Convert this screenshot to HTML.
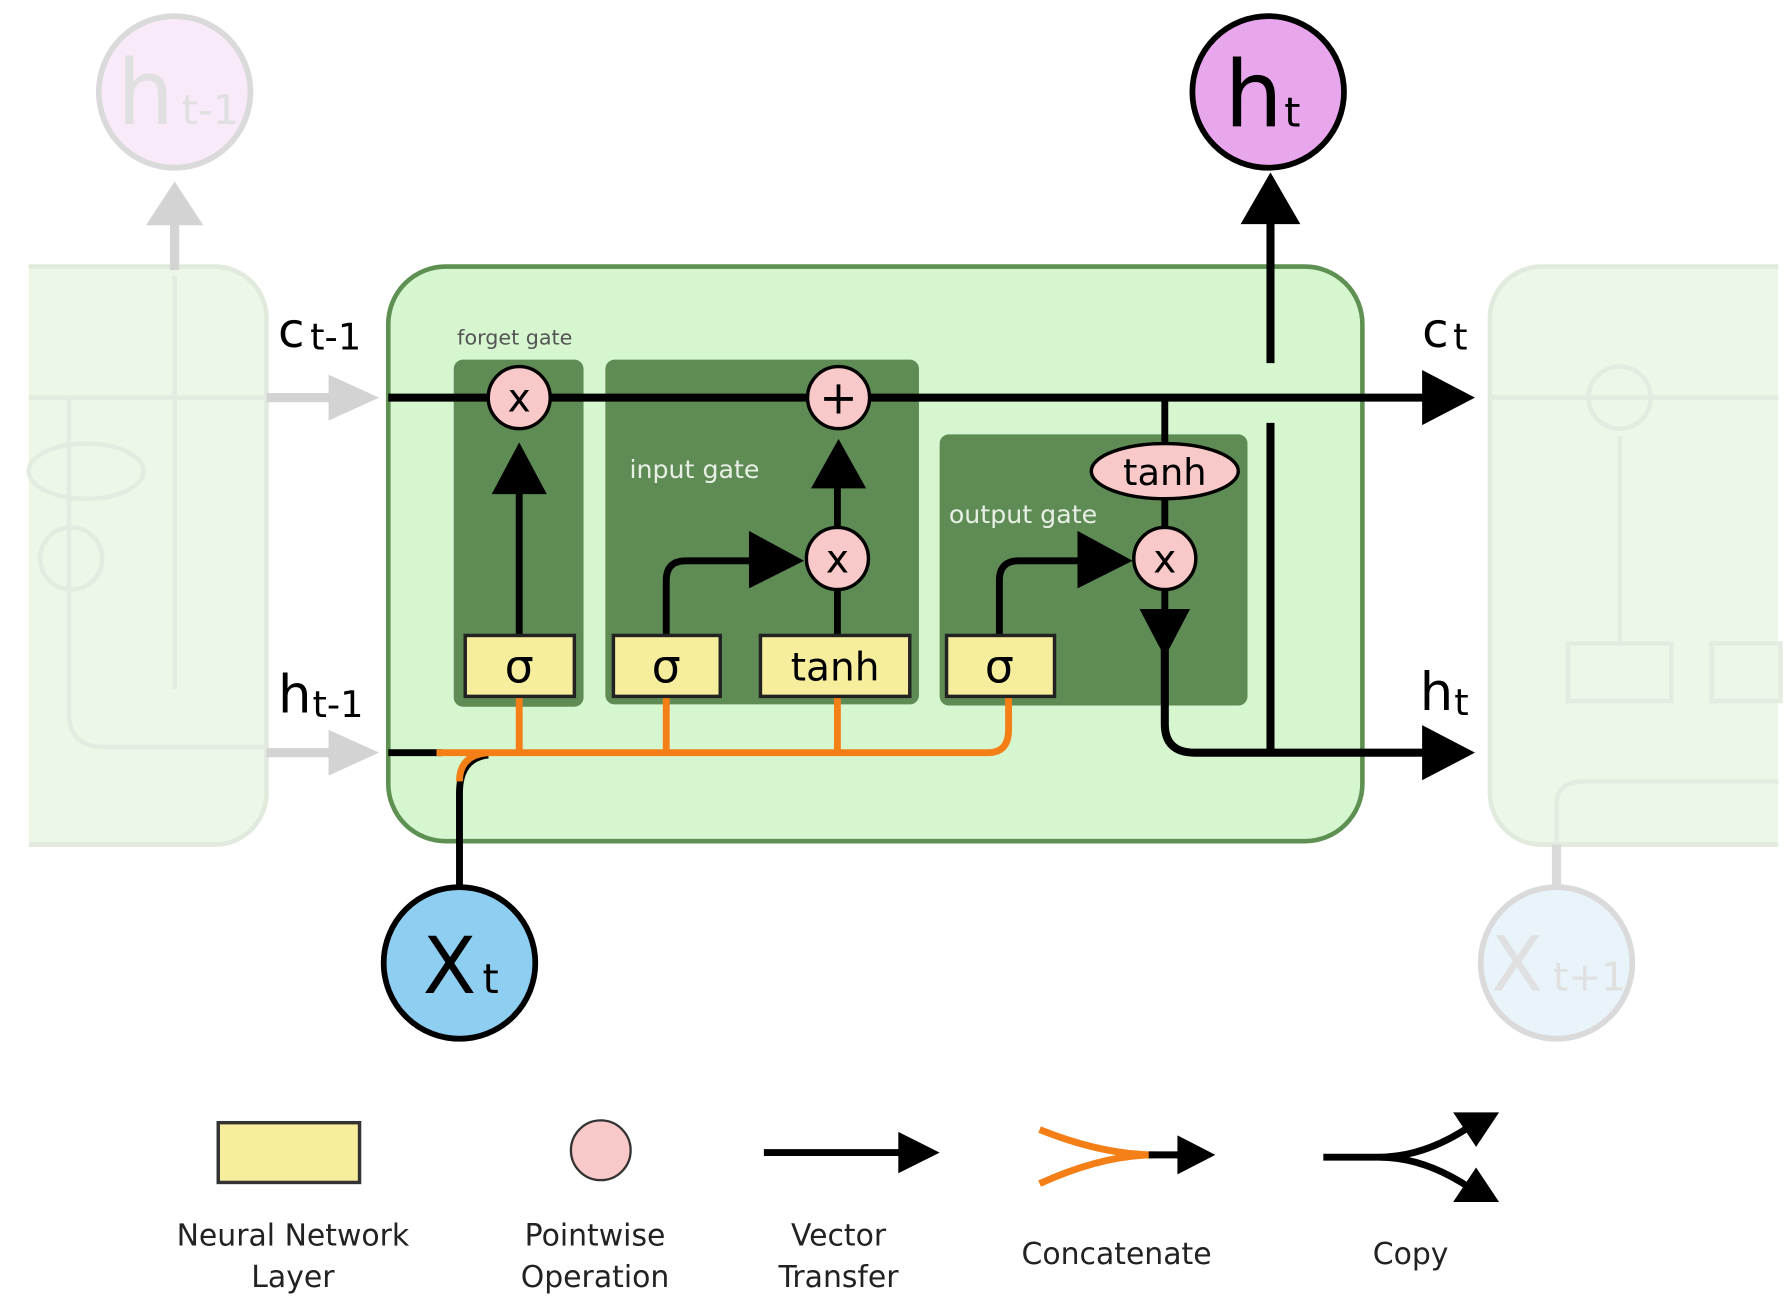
<!DOCTYPE html>
<html><head><meta charset="utf-8"><style>html,body{margin:0;padding:0;background:#fff}svg{display:block}</style></head>
<body>
<svg width="1792" height="1310" viewBox="0 0 1560 1140" preserveAspectRatio="none" xmlns="http://www.w3.org/2000/svg" font-family="'DejaVu Sans','Liberation Sans',sans-serif">
<!-- ghost cells -->
<g opacity="0.9">
<rect x="-30" y="232" width="262" height="503" rx="45" fill="#eaf7e6" stroke="#dde8da" stroke-width="4"/>
<rect x="0" y="228" width="25" height="512" fill="#fff"/>
<rect x="1297" y="232" width="300" height="503" rx="45" fill="#eaf7e6" stroke="#dde8da" stroke-width="4"/>
<rect x="1548" y="228" width="20" height="512" fill="#fff"/>
<g stroke="#e0ebdd" stroke-width="4" fill="none">
<path d="M25,346 H232 M60,346 V620 Q60,650 90,650 H232 M152,240 V600"/>
<ellipse cx="75" cy="410" rx="50" ry="24"/>
<circle cx="62" cy="486" r="27"/>
<path d="M1297,346 H1548 M1410,380 V560 M1365,560 h90 v50 h-90z M1490,560 h60 v50 h-60z M1355,735 V700 Q1355,680 1380,680 H1548"/>
<circle cx="1410" cy="346" r="27"/>
</g>
<circle cx="152" cy="80" r="66" fill="#f8e8f8" stroke="#d6d6d6" stroke-width="5"/>
<text x="102" y="108" font-size="78" fill="#ddd">h</text><text x="158" y="108" font-size="36" fill="#ddd">t-1</text>
<line x1="152" y1="235" x2="152" y2="195" stroke="#d0d0d0" stroke-width="8"/>
<path d="M127,196 L152,158 L177,196z" fill="#cfcfcf"/>
<line x1="232" y1="346" x2="290" y2="346" stroke="#cfcfcf" stroke-width="8"/>
<path d="M286,326 L330,346 L286,366z" fill="#cfcfcf"/>
<line x1="232" y1="655" x2="290" y2="655" stroke="#cfcfcf" stroke-width="8"/>
<path d="M286,635 L330,655 L286,675z" fill="#cfcfcf"/>
<circle cx="1355" cy="838" r="66" fill="#e6f2fa" stroke="#d6d6d6" stroke-width="5"/>
<text x="1298" y="862" font-size="66" fill="#ddd">X</text><text x="1352" y="862" font-size="34" fill="#ddd">t+1</text>
<line x1="1355" y1="735" x2="1355" y2="770" stroke="#d6d6d6" stroke-width="8"/>
</g>
<!-- main cell -->
<rect x="338" y="232" width="848" height="500" rx="50" fill="#d6f6cf" stroke="#5e9052" stroke-width="4"/>
<rect x="395" y="313" width="113" height="302" rx="8" fill="#5f8b55"/>
<rect x="527" y="313" width="273" height="300" rx="8" fill="#5f8b55"/>
<rect x="818" y="378" width="268" height="236" rx="8" fill="#5f8b55"/>
<text x="398" y="300" font-size="18" fill="#555">forget gate</text>
<text x="548" y="416" font-size="22" fill="#e8f0e6">input gate</text>
<text x="826" y="455" font-size="22" fill="#e8f0e6">output gate</text>
<!-- labels -->
<text x="242" y="302" font-size="42" fill="#000">c</text><text x="270" y="304" font-size="32">t-1</text>
<text x="242" y="620" font-size="46" fill="#000">h</text><text x="272" y="624" font-size="32">t-1</text>
<text x="1238" y="302" font-size="42">c</text><text x="1265" y="304" font-size="32">t</text>
<text x="1236" y="618" font-size="46">h</text><text x="1266" y="622" font-size="32">t</text>
<!-- cell state line -->
<line x1="338" y1="346" x2="1245" y2="346" stroke="#000" stroke-width="7"/>
<path d="M1238,322 L1284,346 L1238,370z"/>
<!-- forget -->
<line x1="452" y1="553" x2="452" y2="425" stroke="#000" stroke-width="6"/>
<path d="M428,430 L452,385 L476,430z"/>
<!-- input -->
<path d="M580,553 V505 Q580,488 597,488 H660" fill="none" stroke="#000" stroke-width="6"/>
<path d="M652,462 L700,488 L652,512z"/>
<line x1="729" y1="553" x2="729" y2="420" stroke="#000" stroke-width="6"/>
<path d="M706,425 L730,382 L754,425z"/>
<!-- output -->
<path d="M870,553 V505 Q870,488 887,488 H945" fill="none" stroke="#000" stroke-width="6"/>
<path d="M938,462 L986,488 L938,512z"/>
<line x1="1014" y1="346" x2="1014" y2="530" stroke="#000" stroke-width="6"/>
<path d="M992,530 L1014,572 L1036,530z"/>
<path d="M1014,560 V630 Q1014,655 1040,655 H1245" fill="none" stroke="#000" stroke-width="7"/>
<path d="M1238,631 L1284,655 L1238,679z"/>
<line x1="1106" y1="652" x2="1106" y2="368" stroke="#000" stroke-width="7"/>
<line x1="1106" y1="316" x2="1106" y2="190" stroke="#000" stroke-width="7"/>
<path d="M1080,195 L1106,150 L1132,195z"/>
<!-- ht-1 / xt concat -->
<line x1="338" y1="655" x2="385" y2="655" stroke="#000" stroke-width="6"/>
<path d="M400,770 V690 Q400,660 425,657" fill="none" stroke="#000" stroke-width="6"/>
<path d="M380,655 H860 Q878,655 878,635 V606 M400,680 Q400,657 425,655" fill="none" stroke="#f57f17" stroke-width="6"/>
<line x1="452" y1="606" x2="452" y2="655" stroke="#f57f17" stroke-width="6"/>
<line x1="580" y1="606" x2="580" y2="655" stroke="#f57f17" stroke-width="6"/>
<line x1="729" y1="606" x2="729" y2="655" stroke="#f57f17" stroke-width="6"/>
<!-- nodes -->
<g stroke="#000" stroke-width="3" fill="#f9c8c8">
<circle cx="452" cy="346" r="27"/><circle cx="730" cy="346" r="27"/>
<circle cx="729" cy="486" r="27"/><circle cx="1014" cy="486" r="27"/>
<ellipse cx="1014" cy="410" rx="64" ry="24"/>
</g>
<g font-size="34" text-anchor="middle">
<text x="452" y="358">x</text><text x="729" y="498">x</text><text x="1014" y="498">x</text>
<text x="730" y="360" font-size="40">+</text>
<text x="1014" y="422" font-size="32">tanh</text>
</g>
<g stroke="#222" stroke-width="3" fill="#f6ee9c">
<rect x="405" y="553" width="95" height="53"/><rect x="534" y="553" width="93" height="53"/>
<rect x="662" y="553" width="130" height="53"/><rect x="824" y="553" width="94" height="53"/>
</g>
<g font-size="40" text-anchor="middle">
<text x="452" y="594">σ</text><text x="580" y="594">σ</text><text x="727" y="592" font-size="34">tanh</text><text x="870" y="594">σ</text>
</g>
<!-- circles -->
<circle cx="1104" cy="80" r="66" fill="#e8a6ec" stroke="#000" stroke-width="5"/>
<text x="1066" y="110" font-size="80">h</text><text x="1118" y="110" font-size="36">t</text>
<circle cx="400" cy="838" r="66" fill="#8ecff1" stroke="#000" stroke-width="5"/>
<text x="368" y="864" font-size="68">X</text><text x="420" y="864" font-size="36">t</text>
<!-- legend -->
<rect x="190" y="977" width="123" height="52" fill="#f6ee9c" stroke="#333" stroke-width="3"/>
<circle cx="523" cy="1001" r="26" fill="#f9c8c8" stroke="#333" stroke-width="2"/>
<line x1="665" y1="1003" x2="790" y2="1003" stroke="#000" stroke-width="6"/>
<path d="M782,985 L818,1003 L782,1021z"/>
<path d="M905,983 Q960,1005 1005,1005 M905,1030 Q960,1005 1005,1005" fill="none" stroke="#f57f17" stroke-width="6"/>
<line x1="1000" y1="1005" x2="1030" y2="1005" stroke="#000" stroke-width="6"/>
<path d="M1025,988 L1058,1005 L1025,1022z"/>
<path d="M1152,1007 H1200 Q1240,1007 1280,980 M1200,1007 Q1240,1007 1280,1034" fill="none" stroke="#000" stroke-width="6"/>
<path d="M1265,968 L1305,968 L1285,998z"/>
<path d="M1265,1046 L1305,1046 L1285,1016z"/>
<g font-size="26" text-anchor="middle" fill="#222">
<text x="255" y="1084">Neural Network</text><text x="255" y="1120">Layer</text>
<text x="518" y="1084">Pointwise</text><text x="518" y="1120">Operation</text>
<text x="730" y="1084">Vector</text><text x="730" y="1120">Transfer</text>
<text x="972" y="1100">Concatenate</text>
<text x="1228" y="1100">Copy</text>
</g>
</svg>
</body></html>
